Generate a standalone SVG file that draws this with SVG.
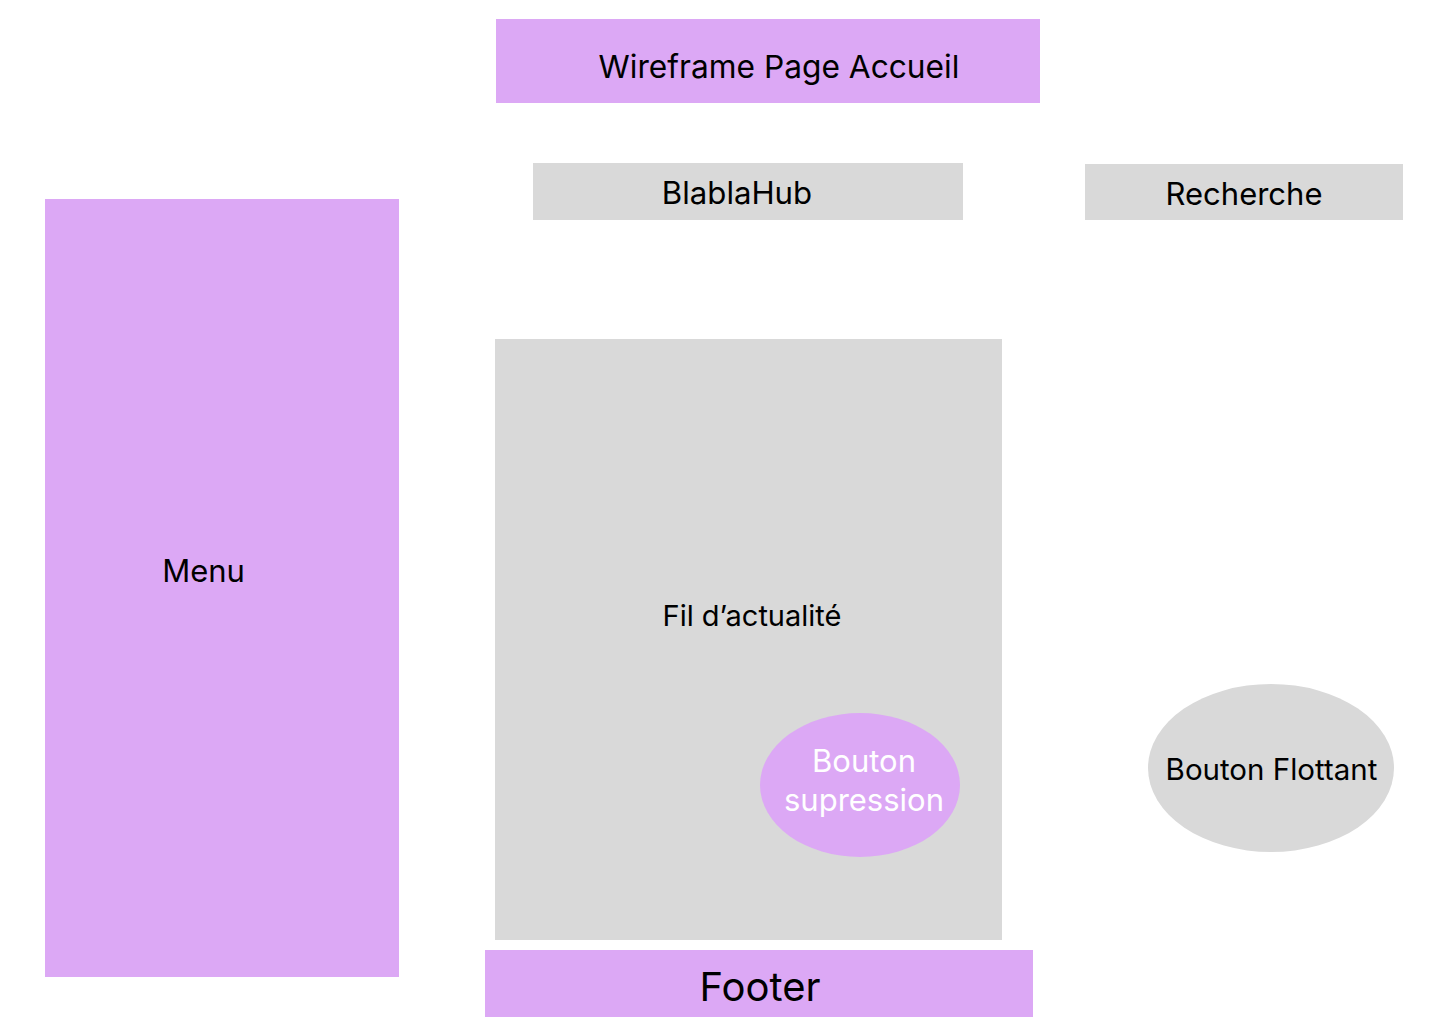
<svg xmlns="http://www.w3.org/2000/svg" width="1440" height="1024" viewBox="0 0 1440 1024">
<style>
.p{fill:#DCA8F5}
.g{fill:#D9D9D9}
text{font-family:Inter,"Noto Sans","Liberation Sans",sans-serif;fill:#000;dominant-baseline:central}
.w{fill:#fff}
</style>
<rect width="1440" height="1024" fill="#fff"/>
<g id="title"><rect class="p" x="496" y="19" width="544" height="84"/><text x="779" y="66" font-size="31.7" text-anchor="middle">Wireframe Page Accueil</text></g>
<g id="blablahub"><rect class="g" x="533" y="163" width="430" height="57"/><text x="737" y="193" font-size="31.2" text-anchor="middle">BlablaHub</text></g>
<g id="recherche"><rect class="g" x="1085" y="164" width="318" height="56"/><text x="1244" y="193" font-size="31" text-anchor="middle">Recherche</text></g>
<g id="menu"><rect class="p" x="45" y="199" width="354" height="778"/><text x="203.5" y="570" font-size="31" text-anchor="middle">Menu</text></g>
<g id="fil"><rect class="g" x="495" y="339" width="507" height="601"/><text x="752" y="615" font-size="29" text-anchor="middle">Fil d’actualité</text></g>
<g id="bouton-supression"><ellipse class="p" cx="860" cy="785" rx="100" ry="72"/><text class="w" x="864" y="760" font-size="31" text-anchor="middle">Bouton</text><text class="w" x="864" y="799" font-size="31" text-anchor="middle">supression</text></g>
<g id="bouton-flottant"><ellipse class="g" cx="1271" cy="768" rx="123" ry="84"/><text x="1271.5" y="769" font-size="29.5" text-anchor="middle">Bouton Flottant</text></g>
<g id="footer"><rect class="p" x="485" y="950" width="548" height="67"/><text x="760" y="986" font-size="40" text-anchor="middle">Footer</text></g>
<g id="connectors"></g>
</svg>
